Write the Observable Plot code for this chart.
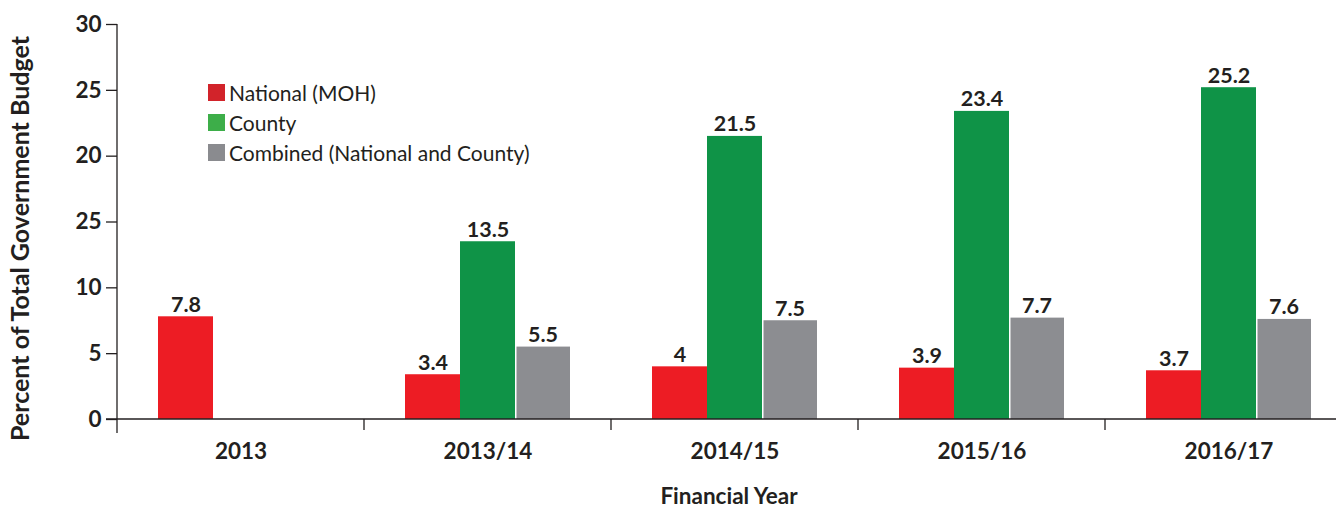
<!DOCTYPE html>
<html><head><meta charset="utf-8">
<script src="https://cdn.jsdelivr.net/npm/d3@7"></script>
<script src="https://cdn.jsdelivr.net/npm/@observablehq/plot@0.6"></script>
<style>
body{margin:0;background:#fff;}
#wrap{position:relative;width:1336px;height:510px;overflow:hidden;font-family:Lato,sans-serif;background:#fff;}
#legend{position:absolute;left:208px;top:77px;}
.row{display:flex;align-items:center;height:30px;font-size:21px;color:#231f20;white-space:nowrap;}
.sw{width:17px;height:17px;margin-right:4px;flex:none;}
</style></head><body><div id="wrap"><div id="chart"></div><div id="legend"></div></div>
<script>
const years = ["2013", "2013/14", "2014/15", "2015/16", "2016/17"];
const seriesKeys = ["National", "County", "Combined"];
const seriesNames = ["National (MOH)", "County", "Combined (National and County)"];
const national = [7.8, 3.4, 4, 3.9, 3.7];
const county = [null, 13.5, 21.5, 23.4, 25.2];
const combined = [null, 5.5, 7.5, 7.7, 7.6];
const barColors = ["#ED1C24", "#0F9347", "#8C8D91"];
const legendColors = ["#D2232A", "#3DAE49", "#8A8B8F"];
const yTicks = [0, 5, 10, 15, 20, 25, 30];
const yTickLabels = ["0", "5", "10", "25", "20", "25", "30"];
const xTitle = "Financial Year";
const yTitle = "Percent of Total Government Budget";

const data = [];
years.forEach((yr, i) => {
  [national, county, combined].forEach((arr, j) => {
    if (arr[i] != null) data.push({year: yr, series: seriesKeys[j], value: arr[i]});
  });
});

const ink = "#231f20";
const plot = Plot.plot({
  width: 1336, height: 510,
  marginTop: 24, marginBottom: 91, marginLeft: 115, marginRight: -18,
  style: {fontFamily: "Lato, sans-serif", color: ink, background: "white", overflow: "visible"},
  fx: {domain: years, padding: 0},
  x: {domain: seriesKeys, axis: null, paddingInner: 0, paddingOuter: 0.71},
  y: {domain: [0, 30]},
  color: {domain: seriesKeys, range: barColors},
  marks: [
    Plot.barY(data.filter(d => d.series !== "Combined"), {fx: "year", x: "series", y: "value", fill: "series"}),
    Plot.barY(data.filter(d => d.series === "Combined"), {fx: "year", x: "series", y: "value", fill: "series", insetLeft: 1.5}),
    Plot.text(data, {fx: "year", x: "series", y: "value", text: d => String(d.value), lineAnchor: "bottom", dy: -5,
      fontSize: 21.5, fontWeight: "bold", fill: ink}),
    Plot.axisY({ticks: yTicks, tickFormat: d => yTickLabels[yTicks.indexOf(d)], tickSize: 11, tickPadding: 5,
      fontSize: 22.5, fontWeight: "bold", stroke: ink, strokeWidth: 1.3, label: null}),
    Plot.axisFx({anchor: "bottom", tickSize: 0, tickPadding: 24, fontSize: 22.5, fontWeight: "bold", label: null})
  ]
});

// axis lines and group boundary ticks, positioned via the plot's own scales
const svg = d3.select(plot);
const fx = plot.scale("fx");
const ys = plot.scale("y");
const y0 = ys.apply(0), yTop = ys.apply(30);
const x0 = fx.apply(years[0]);
const g = svg.append("g").attr("stroke", ink).attr("stroke-width", 1.3);
g.append("line").attr("x1", x0 - 11).attr("x2", 1336).attr("y1", y0).attr("y2", y0);
g.append("line").attr("x1", x0).attr("x2", x0).attr("y1", yTop).attr("y2", y0 + 14);
years.slice(1).forEach(yr => {
  const x = fx.apply(yr);
  g.append("line").attr("x1", x).attr("x2", x).attr("y1", y0).attr("y2", y0 + 11);
});
// axis titles
svg.append("text").text(yTitle)
  .attr("transform", `translate(29,${(yTop + y0) / 2 + 17}) rotate(-90)`)
  .attr("text-anchor", "middle").attr("font-size", 25).attr("font-weight", "bold")
  .attr("font-family", "Lato, sans-serif").attr("fill", ink);
svg.append("text").text(xTitle)
  .attr("x", 729).attr("y", 504)
  .attr("text-anchor", "middle").attr("font-size", 22.5).attr("font-weight", "bold")
  .attr("font-family", "Lato, sans-serif").attr("fill", ink);

document.getElementById("chart").appendChild(plot);

const legend = d3.select("#legend");
seriesNames.forEach((name, i) => {
  const row = legend.append("div").attr("class", "row");
  row.append("div").attr("class", "sw").style("background", legendColors[i]);
  row.append("span").text(name);
});
</script>
</body></html>
